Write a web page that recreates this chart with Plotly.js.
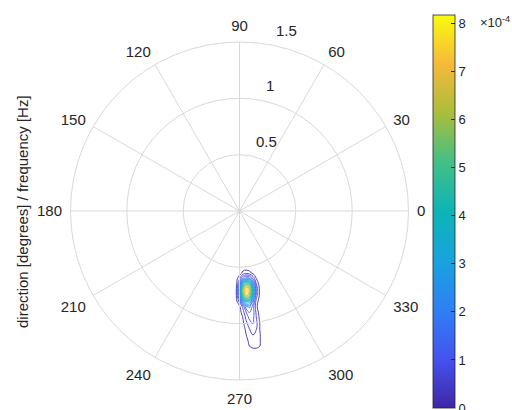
<!DOCTYPE html>
<html><head><meta charset="utf-8">
<script src="https://cdn.plot.ly/plotly-3.0.1.min.js"></script>
<style>html,body{margin:0;padding:0;background:#fff}#chart{width:512px;height:410px}</style>
</head><body><div id="chart"></div>
<script>
// Angular (direction) ticks in degrees and radial (frequency) ticks in Hz
const angleTicks = [0, 30, 60, 90, 120, 150, 180, 210, 240, 270, 300, 330];
const angleLabels = ['0', '30', '60', '90', '120', '150', '180', '210', '240', '270', '300', '330'];
const radialTicks = [0.5, 1, 1.5];
const radialLabels = ['0.5', '1', '1.5'];
const radialLabelAngle = 80; // degrees

// Spectral density grid (×1e-4), east (x) and north (y) components of frequency [Hz]
const gridX = [-0.06, -0.03, 0, 0.03, 0.06, 0.09, 0.12, 0.15, 0.18, 0.21];
const gridY = [-1.25, -1.20, -1.15, -1.10, -1.05, -1.00, -0.95, -0.90, -0.85,
               -0.80, -0.75, -0.70, -0.65, -0.60, -0.55, -0.50, -0.45];
const row125 = [0, 0, 0, 0, 0, 0.1, 0.1, 0.1, 0.1, 0];
const row120 = [0, 0, 0, 0, 0.1, 0.3, 0.4, 0.4, 0.3, 0];
const row115 = [0, 0, 0, 0, 0.2, 0.4, 0.6, 0.5, 0.35, 0];
const row110 = [0, 0, 0, 0, 0.3, 0.5, 0.7, 0.6, 0.35, 0];
const row105 = [0, 0, 0, 0.1, 0.4, 0.7, 0.9, 0.7, 0.3, 0];
const row100 = [0, 0, 0, 0.2, 0.6, 0.9, 1.1, 0.8, 0.3, 0];
const row095 = [0, 0, 0, 0.3, 0.8, 1.2, 1.2, 0.7, 0.2, 0];
const row090 = [0, 0, 0.1, 0.5, 1.1, 1.5, 1.3, 0.6, 0.1, 0];
const row085 = [0, 0, 0.2, 0.8, 1.8, 2.0, 1.3, 0.4, 0, 0];
const row080 = [0, 0.1, 0.9, 2.6, 3.7, 3.3, 1.7, 0.5, 0.1, 0];
const row075 = [0, 0.2, 1.8, 5.0, 6.7, 5.7, 2.9, 0.9, 0.2, 0];
const row070 = [0, 0.2, 2.0, 5.8, 7.8, 6.6, 3.4, 1.0, 0.2, 0];
const row065 = [0, 0.1, 1.4, 4.1, 5.5, 4.7, 2.4, 0.7, 0.1, 0];
const row060 = [0, 0.1, 0.6, 1.6, 2.2, 1.9, 1.0, 0.3, 0.1, 0];
const row055 = [0, 0, 0.1, 0.4, 0.5, 0.4, 0.2, 0.1, 0, 0];
const row050 = [0, 0, 0, 0.1, 0.1, 0.1, 0, 0, 0, 0];
const row045 = [0, 0, 0, 0, 0, 0, 0, 0, 0, 0];
const density = [row125, row120, row115, row110, row105, row100, row095, row090, row085,
                 row080, row075, row070, row065, row060, row055, row050, row045];

const colorbarTicks = [0, 1, 2, 3, 4, 5, 6, 7, 8];
const colorMin = 0, colorMax = 8.18;

const parula = [
  [0.00, '#3e26a8'], [0.125, '#4553ef'], [0.25, '#2e80f4'], [0.375, '#18a3de'],
  [0.50, '#0db4b6'], [0.625, '#42bf87'], [0.75, '#aabd3c'], [0.875, '#f6b93a'],
  [1.00, '#f9fb0e']
];

const txt = '#262626';
const gridC = '#d9d9d9';
const fontFam = '"Liberation Sans", Arial, sans-serif';
const dx = [70.5 / 512, 408.5 / 512];
const dy = [1 - 380 / 410, 1 - 42 / 410];

const traces = [
  {
    type: 'contour', x: gridX, y: gridY, z: density,
    xaxis: 'x', yaxis: 'y',
    colorscale: parula, zmin: colorMin, zmax: colorMax, zauto: false,
    autocontour: false,
    contours: {coloring: 'lines', start: 0.3, end: 8.1, size: 0.4},
    line: {width: 0.9, smoothing: 1.3},
    showscale: false, hoverinfo: 'skip'
  },
  {
    type: 'scatterpolar', r: [null], theta: [null], mode: 'markers',
    marker: {color: [0], colorscale: parula, cmin: colorMin, cmax: colorMax, showscale: true,
      colorbar: {
        x: 433 / 512, xanchor: 'left', xpad: 0, ypad: 0,
        y: 1 - 15 / 410, yanchor: 'top', len: 393 / 410, lenmode: 'fraction',
        thickness: 22, thicknessmode: 'pixels',
        outlinecolor: txt, outlinewidth: 0.8,
        tickvals: colorbarTicks, ticktext: colorbarTicks.map(String),
        ticks: 'inside', ticklen: 4, tickcolor: txt,
        ticklabeloverflow: 'allow',
        tickfont: {family: fontFam, size: 13, color: txt}
      }
    },
    showlegend: false, hoverinfo: 'skip'
  }
];

const rad = radialLabelAngle * Math.PI / 180;
const radialAnnotations = radialTicks.map((r, i) => ({
  text: radialLabels[i], xref: 'x', yref: 'y',
  x: r * Math.cos(rad), y: r * Math.sin(rad),
  xanchor: 'left', yanchor: 'bottom', xshift: 5, yshift: 4,
  showarrow: false, font: {family: fontFam, size: 15, color: txt}
}));

const layout = {
  width: 512, height: 410,
  margin: {l: 0, r: 0, t: 0, b: 0},
  paper_bgcolor: '#fff', plot_bgcolor: 'rgba(0,0,0,0)',
  showlegend: false,
  font: {family: fontFam, color: txt, size: 15},
  xaxis: {domain: dx, range: [-1.5, 1.5], visible: false, fixedrange: true},
  yaxis: {domain: dy, range: [-1.5, 1.5], visible: false, fixedrange: true},
  polar: {
    domain: {x: dx, y: dy},
    bgcolor: 'rgba(0,0,0,0)',
    radialaxis: {
      range: [0, 1.5], tickvals: radialTicks, ticktext: radialLabels,
      angle: radialLabelAngle, showticklabels: false, showline: false, ticks: '',
      gridcolor: gridC, gridwidth: 1
    },
    angularaxis: {
      tickvals: angleTicks, ticktext: angleLabels,
      direction: 'counterclockwise', rotation: 0,
      gridcolor: gridC, linecolor: gridC, showline: true,
      ticks: 'outside', ticklen: 5, tickcolor: 'rgba(0,0,0,0)',
      tickfont: {family: fontFam, size: 15, color: txt}
    }
  },
  annotations: radialAnnotations.concat([
    {text: 'direction [degrees] / frequency [Hz]', xref: 'paper', yref: 'paper',
     x: 22 / 512, y: 1 - 212 / 410, xanchor: 'center', yanchor: 'middle',
     textangle: -90, showarrow: false, font: {family: fontFam, size: 15, color: txt}},
    {text: '×10<sup>-4</sup>', xref: 'paper', yref: 'paper',
     x: 478 / 512, y: 1 - 22 / 410, xanchor: 'left', yanchor: 'middle',
     showarrow: false, font: {family: fontFam, size: 13, color: txt}}
  ])
};

Plotly.newPlot('chart', traces, layout, {staticPlot: true, displayModeBar: false});
</script>
</body></html>
